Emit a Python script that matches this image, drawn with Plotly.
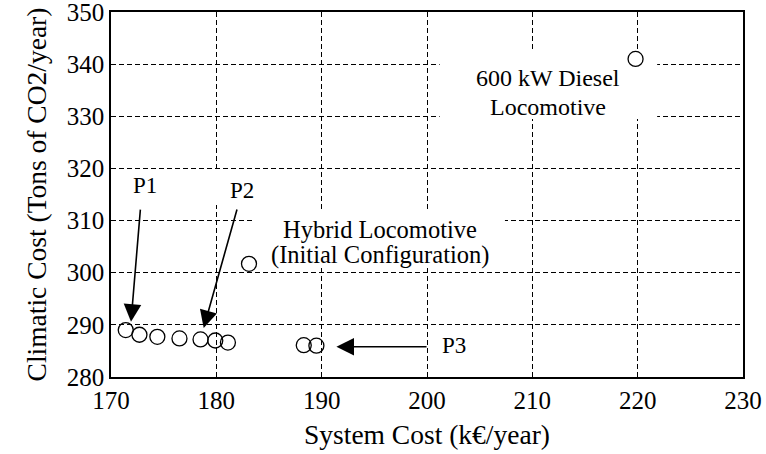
import plotly.graph_objects as go

# Pareto-front configurations
system_cost = [171.4, 172.7, 174.4, 176.5, 178.5, 179.9, 181.1, 188.3, 189.5]
climatic_cost = [289.0, 288.1, 287.7, 287.4, 287.2, 287.0, 286.6, 286.1, 286.0]
# Reference points
hybrid_cost = [183.1]
hybrid_climate = [301.7]
diesel_cost = [219.8]
diesel_climate = [341.0]

x_ticks = [170, 180, 190, 200, 210, 220, 230]
y_ticks = [280, 290, 300, 310, 320, 330, 340, 350]

FONT = "Liberation Serif"
marker = dict(symbol="circle-open", size=15, color="black", line=dict(width=1.3, color="black"))

fig = go.Figure()
fig.add_trace(go.Scatter(x=system_cost, y=climatic_cost, mode="markers", marker=marker, showlegend=False))
fig.add_trace(go.Scatter(x=hybrid_cost, y=hybrid_climate, mode="markers", marker=marker, showlegend=False))
fig.add_trace(go.Scatter(x=diesel_cost, y=diesel_climate, mode="markers", marker=marker, showlegend=False))

# white boxes behind labels that interrupt the grid
boxes = [
    (201.2, 221.85, 329.5, 342.4),
    (183.4, 207.4, 300.9, 311.9),
    (179.8, 185.1, 313.0, 319.3),
]
for x0, x1, y0, y1 in boxes:
    fig.add_shape(type="rect", xref="x", yref="y", x0=x0, x1=x1, y0=y0, y1=y1,
                  fillcolor="white", line=dict(width=0), layer="between")

tfont = dict(family=FONT, size=24, color="black")
hfont = dict(family=FONT, size=24.5, color="black")
pfont = dict(family=FONT, size=23, color="black")
fig.add_annotation(x=211.5, y=337.3, text="600 kW Diesel", showarrow=False, font=tfont)
fig.add_annotation(x=211.5, y=331.8, text="Locomotive", showarrow=False, font=tfont)
fig.add_annotation(x=195.5, y=308.3, text="Hybrid Locomotive", showarrow=False, font=hfont)
fig.add_annotation(x=195.5, y=303.4, text="(Initial Configuration)", showarrow=False, font=hfont)
fig.add_annotation(x=173.2, y=316.8, text="P1", showarrow=False, font=pfont)
fig.add_annotation(x=182.4, y=315.8, text="P2", showarrow=False, font=pfont)
fig.add_annotation(x=202.6, y=286.0, text="P3", showarrow=False, font=pfont)

arrows = [
    ((172.8, 312.4), (171.9, 290.6)),
    ((182.0, 312.4), (178.8, 289.4)),
    ((200.1, 285.8), (191.4, 285.8)),
]
for (tx, ty), (hx, hy) in arrows:
    fig.add_annotation(x=hx, y=hy, ax=tx, ay=ty, xref="x", yref="y", axref="x", ayref="y",
                       text="", showarrow=True, arrowhead=2, arrowsize=2.2, arrowwidth=1.6,
                       arrowcolor="black", standoff=0)

axis_common = dict(
    showline=True, linecolor="black", linewidth=1.5, mirror=True,
    ticks="inside", ticklen=5, tickcolor="black",
    showgrid=True, gridcolor="black", gridwidth=1, griddash="5px,3px",
    zeroline=False, tickfont=dict(family=FONT, size=25, color="black"),
    ticklabeloverflow="allow",
)
fig.update_xaxes(range=[170, 230], tickvals=x_ticks, ticktext=[str(v) for v in x_ticks],
                 title=dict(text="System Cost (k€/year)", standoff=12,
                            font=dict(family=FONT, size=27.5, color="black")),
                 **axis_common)
fig.update_yaxes(range=[280, 350], tickvals=y_ticks, ticktext=[str(v) for v in y_ticks],
                 title=dict(text="Climatic Cost (Tons of CO2/year)", standoff=12,
                            font=dict(family=FONT, size=27.5, color="black")),
                 **axis_common)

fig.update_layout(
    width=766, height=454,
    margin=dict(l=111, r=23, t=12, b=77, autoexpand=False),
    plot_bgcolor="white", paper_bgcolor="white",
    font=dict(family=FONT, color="black"),
)
fig.write_html("out.html", config={"displayModeBar": False},
               post_script="document.body.style.margin='0';")
